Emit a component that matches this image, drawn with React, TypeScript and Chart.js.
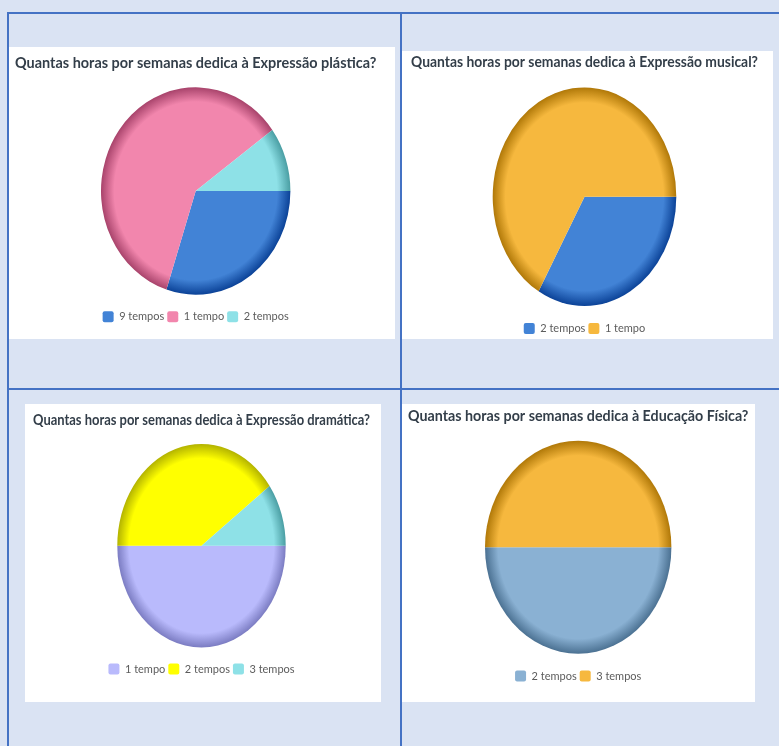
import React, { useEffect, useRef } from 'react';
import { Chart, registerables } from 'chart.js';

Chart.register(...registerables);

// ---------- data ----------
const plasticaTitle = 'Quantas horas por semanas dedica à Expressão plástica?';
const plasticaLabels = ['9 tempos', '1 tempo', '2 tempos'];
const plasticaValues = [3, 6, 1];

const musicalTitle = 'Quantas horas por semanas dedica à Expressão musical?';
const musicalLabels = ['2 tempos', '1 tempo'];
const musicalValues = [1, 2];

const dramaticaTitle = 'Quantas horas por semanas dedica à Expressão dramática?';
const dramaticaLabels = ['1 tempo', '2 tempos', '3 tempos'];
const dramaticaValues = [5, 4, 1];

const fisicaTitle = 'Quantas horas por semanas dedica à Educação Física?';
const fisicaLabels = ['2 tempos', '3 tempos'];
const fisicaValues = [1, 1];

// ---------- styles ----------
const BLUE = ['#4283d6', '#0b4297'];
const PINK = ['#f286ad', '#a8436b'];
const CYAN = ['#8ee1e7', '#4a9ea3'];
const ORANGE = ['#f6b83e', '#b07808'];
const LAVENDER = ['#b9bafc', '#7b7cc2'];
const YELLOW = ['#ffff00', '#b3b300'];
const STEEL = ['#8ab1d3', '#4b7192'];

const BG = '#dae3f3';
const LINE = '#4472c4';

type Layout = {
  canvas: [number, number, number, number];
  panel: [number, number, number, number];
  titleX: number;
  titleCY: number;
  legendCY: number;
  pie: [number, number, number, number];
};

const LAYOUT_1: Layout = { panel: [9, 47, 386, 292], canvas: [9, 47, 386, 312], titleX: 15, titleCY: 63, legendCY: 316.7, pie: [195.7, 191, 94.7, 103.7] };
const LAYOUT_2: Layout = { panel: [402, 51, 371, 288], canvas: [402, 51, 371, 308], titleX: 411, titleCY: 62, legendCY: 328.5, pie: [584.5, 196.7, 91.8, 109.3] };
const LAYOUT_3: Layout = { panel: [25, 404, 356, 298], canvas: [25, 404, 356, 318], titleX: 33, titleCY: 420, legendCY: 669, pie: [201.5, 545.7, 84.2, 101.7] };
const LAYOUT_4: Layout = { panel: [402, 404, 353, 298], canvas: [402, 404, 353, 318], titleX: 408, titleCY: 416.5, legendCY: 676, pie: [578.2, 547.2, 93.2, 106.5] };

const TITLE_SIZE = 15;
const LEGEND_SIZE = 11;
const LEGEND_PAD = 3;

type CardProps = {
  title: string;
  labels: string[];
  values: number[];
  palette: string[][];
  layout: Layout;
};

function PieCard({ title, labels, values, palette, layout }: CardProps) {
  const ref = useRef<HTMLCanvasElement>(null);
  const [x, y, w, h] = layout.canvas;

  useEffect(() => {
    if (!ref.current) return;
    const [pcx, pcy, rx, ry] = layout.pie;
    const cxC = pcx - x;
    const cyC = pcy - y;
    const padL = layout.titleX - x;
    const padR = padL + w - 2 * cxC;
    const legendC = layout.legendCY - y;
    const padB = h - (legendC + LEGEND_SIZE / 2 + 10);
    const legendTop = legendC - LEGEND_SIZE / 2 - LEGEND_PAD;
    const chartTop = 2 * cyC - legendTop;
    const lineH = TITLE_SIZE * 1.2;
    const tpTop = layout.titleCY - y - lineH / 2;
    const tpBottom = chartTop - tpTop - lineH;
    const k = ry / rx;

    const base = palette.map((p) => p[0]);
    const edge = palette.map((p) => p[1]);

    const stretch = {
      id: 'stretch',
      beforeDatasetsDraw(chart: any) {
        const ctx = chart.ctx;
        const ca = chart.chartArea;
        const cy = (ca.top + ca.bottom) / 2;
        ctx.save();
        ctx.translate(0, cy);
        ctx.scale(1, k);
        ctx.translate(0, -cy);
      },
      afterDatasetsDraw(chart: any) {
        chart.ctx.restore();
      },
    };

    const chart = new Chart(ref.current, {
      type: 'pie',
      data: {
        labels,
        datasets: [
          {
            data: values,
            radius: rx,
            borderWidth: 0,
            backgroundColor: (c: any) => {
              const i = c.dataIndex ?? 0;
              const ch = c.chart;
              const ca = ch.chartArea;
              if (!ca) return base[i];
              const cx = (ca.left + ca.right) / 2;
              const cy = (ca.top + ca.bottom) / 2;
              const g = ch.ctx.createRadialGradient(cx, cy, 0, cx, cy, rx);
              g.addColorStop(0, base[i]);
              g.addColorStop(0.86, base[i]);
              g.addColorStop(1, edge[i]);
              return g;
            },
          } as any,
        ],
      },
      options: {
        animation: false,
        responsive: false,
        devicePixelRatio: 1,
        events: [],
        rotation: 90,
        layout: { padding: { left: padL, right: padR, top: 0, bottom: padB } },
        plugins: {
          tooltip: { enabled: false },
          title: {
            display: true,
            text: title,
            align: 'start',
            color: '#333e49',
            font: { family: 'Lato', size: TITLE_SIZE, weight: 'bold' },
            padding: { top: tpTop, bottom: tpBottom },
          },
          legend: {
            display: true,
            position: 'bottom',
            align: 'center',
            labels: {
              boxWidth: LEGEND_SIZE,
              boxHeight: LEGEND_SIZE,
              padding: LEGEND_PAD,
              color: '#5c5c5c',
              useBorderRadius: true,
              borderRadius: 2,
              font: { family: 'Lato', size: LEGEND_SIZE },
              generateLabels: () =>
                labels.map((t, i) => ({
                  text: t,
                  fillStyle: base[i],
                  strokeStyle: base[i],
                  lineWidth: 0,
                  hidden: false,
                  index: i,
                  borderRadius: 2,
                  fontColor: '#5c5c5c',
                })),
            },
          },
        },
      } as any,
      plugins: [stretch],
    });
    return () => chart.destroy();
  }, []);

  const [px, py, pw, ph] = layout.panel;
  return (
    <>
      <div style={{ position: 'absolute', left: px, top: py, width: pw, height: ph, background: '#ffffff' }} />
      <canvas
        ref={ref}
        width={w}
        height={h}
        style={{ position: 'absolute', left: x, top: y, width: w, height: h, display: 'block' }}
      />
    </>
  );
}

export default function App() {
  return (
    <div style={{ position: 'fixed', left: 0, top: 0, width: 779, height: 746, background: BG, overflow: 'hidden' }}>
      <div style={{ position: 'absolute', left: 7, top: 12, width: 772, height: 2, background: LINE }} />
      <div style={{ position: 'absolute', left: 7, top: 388, width: 772, height: 2, background: LINE }} />
      <div style={{ position: 'absolute', left: 7, top: 12, width: 2, height: 734, background: LINE }} />
      <div style={{ position: 'absolute', left: 400, top: 12, width: 2, height: 734, background: LINE }} />
      <PieCard title={plasticaTitle} labels={plasticaLabels} values={plasticaValues} palette={[BLUE, PINK, CYAN]} layout={LAYOUT_1} />
      <PieCard title={musicalTitle} labels={musicalLabels} values={musicalValues} palette={[BLUE, ORANGE]} layout={LAYOUT_2} />
      <PieCard title={dramaticaTitle} labels={dramaticaLabels} values={dramaticaValues} palette={[LAVENDER, YELLOW, CYAN]} layout={LAYOUT_3} />
      <PieCard title={fisicaTitle} labels={fisicaLabels} values={fisicaValues} palette={[STEEL, ORANGE]} layout={LAYOUT_4} />
    </div>
  );
}
